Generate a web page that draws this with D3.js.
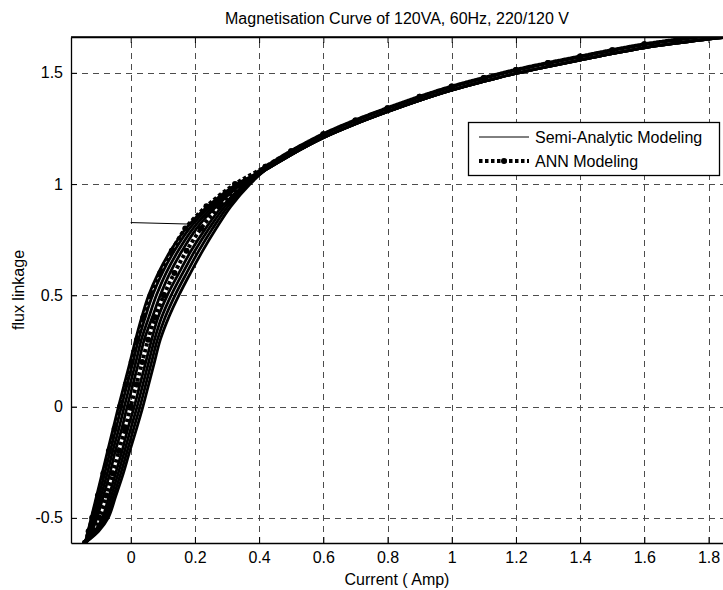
<!DOCTYPE html>
<html>
<head>
<meta charset="utf-8">
<script src="https://cdn.jsdelivr.net/npm/d3@7"></script>
<style>
  body { margin: 0; background: #fff; }
  svg { display: block; font-family: "Liberation Sans", Arial, sans-serif; }
</style>
</head>
<body>
<svg id="chart" width="723" height="590"></svg>
<script>
// tick labels
var xTicks = [0, 0.2, 0.4, 0.6, 0.8, 1, 1.2, 1.4, 1.6, 1.8];
var yTicks = [-0.5, 0, 0.5, 1, 1.5];

// common upper part of the curve (current, flux) - all branches merge here
var upperI = [1.87, 1.8, 1.7, 1.6, 1.5, 1.4, 1.3, 1.2, 1.1, 1.0, 0.9, 0.8, 0.7, 0.6, 0.5, 0.42];
var upperF = [1.662, 1.652, 1.633, 1.612, 1.586, 1.557, 1.528, 1.497, 1.461, 1.422, 1.376, 1.325, 1.27, 1.208, 1.132, 1.064];

// flux levels for the lower (hysteresis) part
var lowerF = [1.0, 0.9, 0.8, 0.7, 0.6, 0.5, 0.4, 0.3, 0.2, 0.1, 0.0, -0.1, -0.2, -0.3, -0.4, -0.5, -0.56, -0.612];

// semi-analytic loops: descending / ascending branch currents at lowerF
var semiDesc1 = [0.33, 0.24, 0.172, 0.124, 0.086, 0.056, 0.034, 0.015, -0.002, -0.02, -0.038, -0.055, -0.072, -0.089, -0.106, -0.123, -0.133, -0.142];
var semiDesc2 = [0.335, 0.249, 0.183, 0.136, 0.098, 0.068, 0.045, 0.024, 0.007, -0.011, -0.029, -0.046, -0.064, -0.081, -0.099, -0.117, -0.129, -0.142];
var semiDesc3 = [0.34, 0.258, 0.194, 0.148, 0.11, 0.08, 0.056, 0.033, 0.016, -0.002, -0.02, -0.037, -0.056, -0.073, -0.092, -0.111, -0.125, -0.142];
var semiDesc4 = [0.345, 0.267, 0.205, 0.16, 0.122, 0.092, 0.067, 0.042, 0.025, 0.007, -0.011, -0.028, -0.048, -0.065, -0.085, -0.105, -0.121, -0.142];
var semiAsc1  = [0.372, 0.312, 0.266, 0.224, 0.186, 0.15, 0.118, 0.092, 0.074, 0.056, 0.038, 0.018, -0.003, -0.023, -0.046, -0.07, -0.1, -0.142];
var semiAsc2  = [0.367, 0.303, 0.255, 0.212, 0.174, 0.138, 0.107, 0.083, 0.065, 0.047, 0.029, 0.009, -0.011, -0.031, -0.053, -0.076, -0.104, -0.142];
var semiAsc3  = [0.362, 0.294, 0.244, 0.2, 0.162, 0.126, 0.096, 0.074, 0.056, 0.038, 0.02, 0.0, -0.019, -0.039, -0.06, -0.082, -0.108, -0.142];
var semiAsc4  = [0.357, 0.285, 0.233, 0.188, 0.15, 0.114, 0.085, 0.065, 0.047, 0.029, 0.011, -0.009, -0.027, -0.047, -0.067, -0.088, -0.112, -0.142];

// initial magnetisation segment of the semi-analytic model
var semiInitI = [0, 0.19];
var semiInitF = [0.827, 0.82];

// ANN model
var annUpperF = [1.678, 1.668, 1.649, 1.628, 1.602, 1.573, 1.544, 1.513, 1.477, 1.438, 1.392, 1.341, 1.286, 1.224, 1.148, 1.078];
var annDesc = [0.325, 0.236, 0.17, 0.128, 0.092, 0.062, 0.039, 0.02, 0.003, -0.015, -0.033, -0.05, -0.068, -0.085, -0.102, -0.12, -0.131, -0.142];
var annAsc  = [0.351, 0.276, 0.219, 0.174, 0.136, 0.103, 0.076, 0.054, 0.036, 0.018, 0.0, -0.018, -0.037, -0.056, -0.076, -0.097, -0.117, -0.142];

(function () {
var W = 723, H = 590;
var pLeft = 71, pRight = 731, pTop = 37, pBottom = 543;

var x = d3.scaleLinear().domain([-0.186, 1.870]).range([pLeft, pRight]);
var y = d3.scaleLinear().domain([-0.613, 1.661]).range([pBottom, pTop]);

var svg = d3.select("#chart");
svg.append("rect").attr("width", W).attr("height", H).attr("fill", "#fff");

svg.append("defs").append("clipPath").attr("id", "clip")
  .append("rect").attr("x", pLeft).attr("y", pTop)
  .attr("width", pRight - pLeft).attr("height", pBottom - pTop);

// grid
var grid = svg.append("g").attr("stroke", "#4d4d4d").attr("stroke-width", 1)
  .attr("stroke-dasharray", "6,5").attr("fill", "none");
grid.selectAll(".gx").data(xTicks).enter().append("line")
  .attr("x1", function(d){ return Math.round(x(d)) + 0.5; })
  .attr("x2", function(d){ return Math.round(x(d)) + 0.5; })
  .attr("y1", pBottom).attr("y2", pTop);
grid.selectAll(".gy").data(yTicks).enter().append("line")
  .attr("y1", function(d){ return Math.round(y(d)) + 0.5; })
  .attr("y2", function(d){ return Math.round(y(d)) + 0.5; })
  .attr("x1", pLeft).attr("x2", pRight);

// axes (MATLAB style: inward ticks on all sides)
function fmt(d) { return String(d); }
function styleAxis(g) {
  g.select(".domain").attr("stroke", "#000").attr("stroke-width", 1.3);
  g.selectAll(".tick line").attr("stroke", "#000");
  g.selectAll(".tick text").attr("fill", "#000").style("font-size", "16px")
    .style("font-family", "Liberation Sans, Arial, sans-serif");
}
svg.append("g").attr("transform", "translate(0," + pBottom + ")")
  .call(d3.axisBottom(x).tickValues(xTicks).tickSizeInner(-6).tickSizeOuter(0).tickPadding(9).tickFormat(fmt))
  .call(styleAxis);
svg.append("g").attr("transform", "translate(0," + pTop + ")")
  .call(d3.axisTop(x).tickValues(xTicks).tickSizeInner(-6).tickSizeOuter(0).tickFormat(""))
  .call(styleAxis);
svg.append("g").attr("transform", "translate(" + pLeft + ",0)")
  .call(d3.axisLeft(y).tickValues(yTicks).tickSizeInner(-6).tickSizeOuter(0).tickPadding(8).tickFormat(fmt))
  .call(styleAxis);
svg.append("g").attr("transform", "translate(" + pRight + ",0)")
  .call(d3.axisRight(y).tickValues(yTicks).tickSizeInner(-6).tickSizeOuter(0).tickFormat(""))
  .call(styleAxis);

// data
function pts(I, F) { return d3.zip(I, F); }
function loop(desc, asc, upF) {
  var up = pts(upperI, upF);
  return up.concat(pts(desc, lowerF), pts(asc, lowerF).reverse(), up.slice().reverse());
}
var line = d3.line().x(function(d){ return x(d[0]); }).y(function(d){ return y(d[1]); })
  .curve(d3.curveCatmullRom.alpha(0.5));

var plot = svg.append("g").attr("clip-path", "url(#clip)");

var semiLoops = [
  loop(semiDesc1, semiAsc1, upperF), loop(semiDesc2, semiAsc2, upperF),
  loop(semiDesc3, semiAsc3, upperF), loop(semiDesc4, semiAsc4, upperF)
];
plot.selectAll(".semi").data(semiLoops).enter().append("path")
  .attr("d", line).attr("fill", "none").attr("stroke", "#000").attr("stroke-width", 2.8);
plot.append("path").datum(pts(semiInitI, semiInitF))
  .attr("d", d3.line().x(function(d){ return x(d[0]); }).y(function(d){ return y(d[1]); }))
  .attr("fill", "none").attr("stroke", "#000").attr("stroke-width", 1);

var annPts = loop(annDesc, annAsc, annUpperF);
plot.append("path").datum(annPts).attr("d", line)
  .attr("fill", "none").attr("stroke", "#000").attr("stroke-width", 4).attr("stroke-dasharray", "3.5,2.5");
plot.selectAll(".annDot").data(annPts).enter().append("circle")
  .attr("cx", function(d){ return x(d[0]); }).attr("cy", function(d){ return y(d[1]); })
  .attr("r", 3).attr("fill", "#000");

// top border drawn again above the curves
svg.append("line").attr("x1", pLeft).attr("x2", pRight).attr("y1", pTop).attr("y2", pTop)
  .attr("stroke", "#000").attr("stroke-width", 1.3);

// legend
var lg = svg.append("g");
lg.append("rect").attr("x", 468.5).attr("y", 122.5).attr("width", 251).attr("height", 53)
  .attr("fill", "#fff").attr("stroke", "#000").attr("stroke-width", 1.3);
lg.append("line").attr("x1", 479).attr("x2", 529).attr("y1", 137).attr("y2", 137)
  .attr("stroke", "#000").attr("stroke-width", 1);
lg.append("line").attr("x1", 479).attr("x2", 529).attr("y1", 161).attr("y2", 161)
  .attr("stroke", "#000").attr("stroke-width", 4).attr("stroke-dasharray", "3.5,2.5");
lg.append("circle").attr("cx", 504).attr("cy", 161).attr("r", 3).attr("fill", "#000");
lg.append("text").attr("x", 535).attr("y", 142.5).style("font-size", "16px").text("Semi-Analytic Modeling");
lg.append("text").attr("x", 535).attr("y", 166.5).style("font-size", "16px").text("ANN Modeling");

// titles
svg.append("text").attr("x", (pLeft + pRight) / 2 - 4).attr("y", 24).attr("text-anchor", "middle")
  .style("font-size", "16px").text("Magnetisation Curve of 120VA, 60Hz, 220/120 V");
svg.append("text").attr("x", (pLeft + pRight) / 2 - 4).attr("y", 585).attr("text-anchor", "middle")
  .style("font-size", "16px").text("Current ( Amp)");
svg.append("text").attr("transform", "translate(24," + ((pTop + pBottom) / 2) + ") rotate(-90)")
  .attr("text-anchor", "middle").style("font-size", "16px").text("flux linkage");
})();
</script>
</body>
</html>
